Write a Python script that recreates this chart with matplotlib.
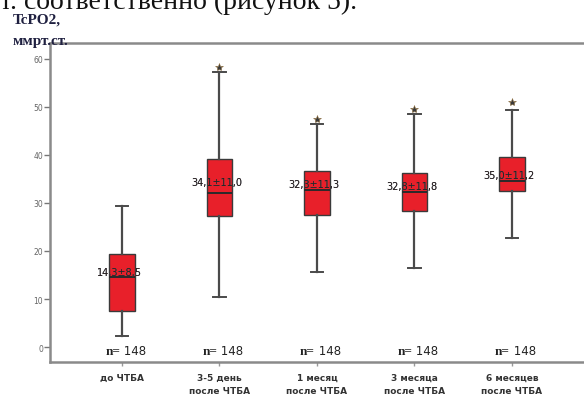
import matplotlib
matplotlib.use('Agg')
import matplotlib.pyplot as plt

# values
labels = ['до ЧТБА', '3-5 день\nпосле ЧТБА', '1 месяц\nпосле ЧТБА',
          '3 месяца\nпосле ЧТБА', '6 месяцев\nпосле ЧТБА']
whislo = [2.3, 10.4, 15.6, 16.5, 22.7]
q1 = [7.5, 27.3, 27.5, 28.3, 32.5]
med = [14.6, 32.1, 32.7, 32.3, 34.6]
q3 = [19.4, 39.2, 36.7, 36.3, 39.6]
whishi = [29.4, 57.3, 46.5, 48.5, 49.4]
fliers = [[], [58.3], [47.5], [49.6], [51.0]]
mean_sd = ['14,3±8,5', '34,1±11,0', '32,3±11,3', '32,8±11,8', '35,0±11,2']
mean_sd_y = [15.6, 34.4, 34.0, 33.5, 35.8]
n_counts = [148, 148, 148, 148, 148]

fig = plt.figure(figsize=(5.84, 4.06), dpi=100)
ax = fig.add_axes([0.0856, 0.106, 0.9144, 0.786])

stats = []
for i in range(len(labels)):
    stats.append({'med': med[i], 'q1': q1[i], 'q3': q3[i],
                  'whislo': whislo[i], 'whishi': whishi[i],
                  'fliers': fliers[i]})
pos = [1, 2, 3, 4, 5]
bp = ax.bxp(stats, positions=pos, widths=0.26, patch_artist=True,
            boxprops=dict(facecolor='#e8202a', edgecolor='#3a3a3a', linewidth=1.0),
            medianprops=dict(color='#2a2a2a', linewidth=1.4),
            whiskerprops=dict(color='#4a4a4a', linewidth=1.6),
            capprops=dict(color='#4a4a4a', linewidth=1.4),
            capwidths=0.13,
            flierprops=dict(marker='*', markersize=6, markerfacecolor='#3a3a3a',
                            markeredgecolor='#8a6a3a', markeredgewidth=0.4))

for i, p in enumerate(pos):
    ax.text(p - 0.03, mean_sd_y[i], mean_sd[i], ha='center', va='center',
            fontsize=7, color='#56606e', zorder=6)
    # darker part of the same label where it crosses the red box
    t = ax.text(p - 0.03, mean_sd_y[i], mean_sd[i], ha='center', va='center',
                fontsize=7, color='#2a2020', zorder=7)
    t.set_clip_path(bp['boxes'][i])
    ax.text(p - 0.02, -0.8, 'n=', ha='right', va='center', fontsize=9.5,
            fontweight='bold', family='Liberation Serif', color='#222222')
    ax.text(p - 0.02, -0.8, ' ' + str(n_counts[i]), ha='left', va='center',
            fontsize=8.5, color='#222222')

ax.set_xlim(0.262, 5.74)
ax.set_ylim(-3.1, 63.3)
ax.set_yticks([0, 10, 20, 30, 40, 50, 60])
ax.tick_params(axis='y', labelsize=5.5, labelcolor='#666666', color='#777777',
               length=4, width=1, pad=1)
ax.set_xticks(pos)
ax.set_xticklabels(labels, fontsize=6.5, fontweight='bold', color='#333333',
                   linespacing=1.6)
ax.tick_params(axis='x', color='#999999', length=3, width=1, pad=5)

for s in ['left', 'top', 'bottom']:
    ax.spines[s].set_color('#8a8a8a')
    ax.spines[s].set_linewidth(1.8)
ax.spines['right'].set_visible(False)

fig.text(0.022, 1 - 20 / 406, 'TcPO2,', fontsize=11,
         fontweight='bold', family='Liberation Serif', color='#1f2040',
         va='center', ha='left')
fig.text(0.022, 1 - 41 / 406, 'ммрт.ст.', fontsize=11,
         fontweight='bold', family='Liberation Serif', color='#1f2040',
         va='center', ha='left')
# partly cut line of document text above the chart
fig.text(0.0, 1 - 9 / 406, 'т. соответственно (рисунок 5).', fontsize=20,
         family='Liberation Serif', color='#111111', va='baseline', ha='left')

fig.savefig('out.png', dpi=100)
